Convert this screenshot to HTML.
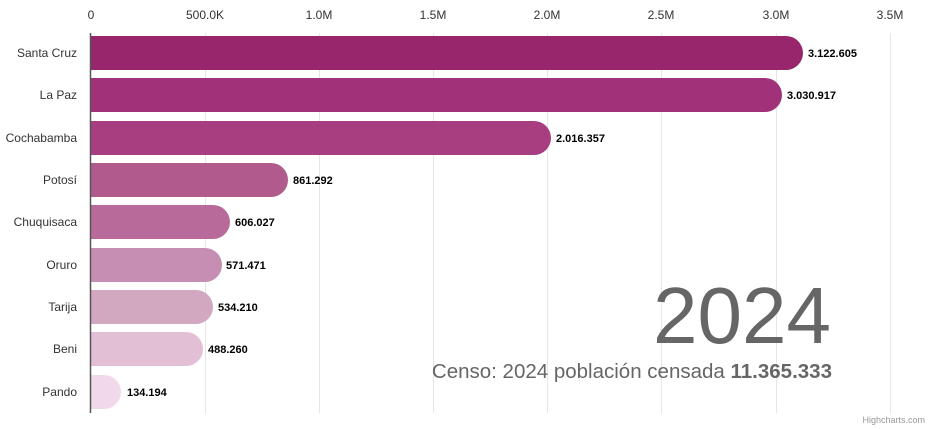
<!DOCTYPE html>
<html><head><meta charset="utf-8"><style>body{margin:0;background:#fff}svg{display:block}</style></head>
<body>
<svg width="928" height="429" xmlns="http://www.w3.org/2000/svg" font-family="Liberation Sans, Arial, sans-serif">
<rect width="928" height="429" fill="#fff"/>
<g stroke="#e6e6e6" stroke-width="1">
<line x1="205.5" y1="33" x2="205.5" y2="413"/>
<line x1="319.5" y1="33" x2="319.5" y2="413"/>
<line x1="433.5" y1="33" x2="433.5" y2="413"/>
<line x1="547.5" y1="33" x2="547.5" y2="413"/>
<line x1="661.5" y1="33" x2="661.5" y2="413"/>
<line x1="776.5" y1="33" x2="776.5" y2="413"/>
<line x1="890.5" y1="33" x2="890.5" y2="413"/>
</g>
<g font-size="12" fill="#333" text-anchor="middle">
<text x="91" y="19">0</text><text x="205" y="19">500.0K</text><text x="319" y="19">1.0M</text><text x="433" y="19">1.5M</text><text x="547" y="19">2.0M</text><text x="661" y="19">2.5M</text><text x="776" y="19">3.0M</text><text x="890" y="19">3.5M</text>
</g>
<g>
<path d="M91 36 H786 a17 17 0 0 1 0 34 H91Z" fill="#97266d"/>
<path d="M91 78 H765 a17 17 0 0 1 0 34 H91Z" fill="#a1327a"/>
<path d="M91 121 H534 a17 17 0 0 1 0 34 H91Z" fill="#a83e80"/>
<path d="M91 163 H271 a17 17 0 0 1 0 34 H91Z" fill="#b05a8e"/>
<path d="M91 205 H213 a17 17 0 0 1 0 34 H91Z" fill="#b86b9a"/>
<path d="M91 248 H205 a17 17 0 0 1 0 34 H91Z" fill="#c68eb3"/>
<path d="M91 290 H196 a17 17 0 0 1 0 34 H91Z" fill="#d1a8c0"/>
<path d="M91 332 H186 a17 17 0 0 1 0 34 H91Z" fill="#e3bfd6"/>
<path d="M91 375 H104 a17 17 0 0 1 0 34 H91Z" fill="#f1d9ea"/>
</g>
<line x1="90.5" y1="33" x2="90.5" y2="413" stroke="#555" stroke-width="1.5"/>
<g font-size="12" fill="#333" text-anchor="end">
<text x="77" y="57">Santa Cruz</text><text x="77" y="99">La Paz</text><text x="77" y="142">Cochabamba</text><text x="77" y="184">Potosí</text><text x="77" y="226">Chuquisaca</text><text x="77" y="269">Oruro</text><text x="77" y="311">Tarija</text><text x="77" y="353">Beni</text><text x="77" y="396">Pando</text>
</g>
<g font-size="11" font-weight="bold" fill="#000">
<text x="808" y="57">3.122.605</text><text x="787" y="99">3.030.917</text><text x="556" y="142">2.016.357</text><text x="293" y="184">861.292</text><text x="235" y="226">606.027</text><text x="226" y="269">571.471</text><text x="218" y="311">534.210</text><text x="208" y="353">488.260</text><text x="127" y="396">134.194</text>
</g>
<text x="831" y="343" font-size="80" fill="#666" text-anchor="end">2024</text>
<text x="832" y="378" font-size="20.5" fill="#666" text-anchor="end">Censo: 2024 población censada <tspan font-weight="bold">11.365.333</tspan></text>
<text x="925" y="423" font-size="9" fill="#999" text-anchor="end">Highcharts.com</text>
</svg>
</body></html>
